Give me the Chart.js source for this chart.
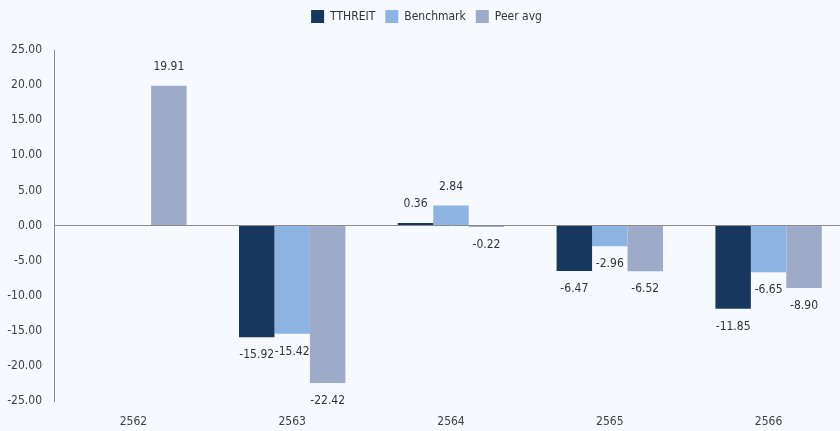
<!DOCTYPE html>
<html>
<head>
<meta charset="utf-8">
<script src="https://cdn.jsdelivr.net/npm/chart.js@4"></script>
<style>
  html, body { margin: 0; padding: 0; background: #f6f9fd; overflow: hidden; }
  #wrap { width: 848px; height: 431px; }
</style>
</head>
<body>
<div id="wrap"><canvas id="chart"></canvas></div>
<script>
const years = ["2562", "2563", "2564", "2565", "2566"];
const tthreit = [null, -15.92, 0.36, -6.47, -11.85];
const benchmark = [null, -15.42, 2.84, -2.96, -6.65];
const peerAvg = [19.91, -22.42, -0.22, -6.52, -8.90];

const fontFamily = "'DejaVu Sans Condensed', 'DejaVu Sans', sans-serif";

// draw value labels above / below each bar
const barLabels = {
    id: "barLabels",
    afterDatasetsDraw(chart) {
        const ctx = chart.ctx;
        ctx.save();
        ctx.font = "12px " + fontFamily;
        ctx.fillStyle = "#333333";
        ctx.textAlign = "center";
        ctx.textBaseline = "middle";
        chart.data.datasets.forEach((ds, i) => {
            const meta = chart.getDatasetMeta(i);
            meta.data.forEach((bar, j) => {
                const v = ds.data[j];
                if (v === null) return;
                const y = v >= 0 ? bar.y - 19 : bar.y + 18;
                ctx.fillText(v.toFixed(2), bar.x, y);
            });
        });
        ctx.restore();
    }
};

// extra room between legend and plot
const legendGap = {
    id: "legendGap",
    afterInit(chart) {
        const fit = chart.legend.fit;
        chart.legend.fit = function () {
            fit.call(this);
            this.height += 17;
        };
    }
};

new Chart(document.getElementById("chart"), {
    type: "bar",
    data: {
        labels: years,
        datasets: [
            { label: "TTHREIT", data: tthreit, backgroundColor: "#17375e" },
            { label: "Benchmark", data: benchmark, backgroundColor: "#8db3e2" },
            { label: "Peer avg", data: peerAvg, backgroundColor: "#9dabc8" }
        ]
    },
    options: {
        responsive: true,
        maintainAspectRatio: false,
        animation: false,
        datasets: {
            bar: { categoryPercentage: 0.67, barPercentage: 1.0 }
        },
        layout: { padding: { top: 0, right: 0, left: 5, bottom: 0 } },
        plugins: {
            legend: {
                position: "top",
                labels: {
                    boxWidth: 13,
                    boxHeight: 13,
                    padding: 10,
                    color: "#333333",
                    font: { family: fontFamily, size: 12 }
                }
            },
            tooltip: { enabled: false }
        },
        scales: {
            x: {
                grid: { display: false },
                border: { display: false },
                ticks: { color: "#404040", font: { family: fontFamily, size: 12 }, padding: 6 },
                afterFit: s => { s.height = 30; }
            },
            y: {
                min: -25,
                max: 25,
                ticks: {
                    stepSize: 5,
                    padding: 12,
                    color: "#404040",
                    font: { family: fontFamily, size: 12 },
                    callback: v => v.toFixed(2)
                },
                afterFit: s => { s.width = 49; },
                border: { display: true, color: "#8c8c8c" },
                grid: {
                    drawTicks: false,
                    color: c => (c.tick && c.tick.value === 0 ? "#8c8c8c" : "rgba(0,0,0,0)")
                }
            }
        }
    },
    plugins: [barLabels, legendGap]
});
</script>
</body>
</html>
